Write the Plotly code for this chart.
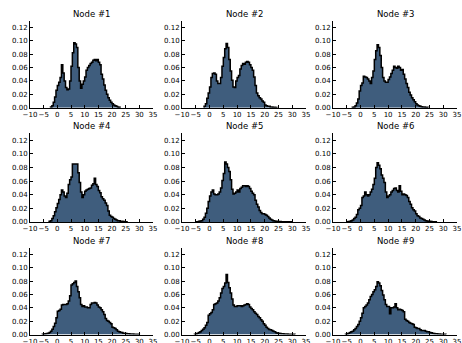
import plotly.graph_objects as go

BIN_WIDTH = 0.5
TITLES = ["Node #1", "Node #2", "Node #3", "Node #4", "Node #5",
          "Node #6", "Node #7", "Node #8", "Node #9"]
NODE_START = [-2.5, -2.0, -3.0, -3.0, -5.0, -5.0, -5.5, -5.5, -5.5]

node1 = [0.001, 0.003, 0.008, 0.016, 0.026, 0.033, 0.038, 0.045, 0.064, 0.052,
         0.040, 0.030, 0.027, 0.028, 0.040, 0.062, 0.082, 0.097, 0.095, 0.090,
         0.060, 0.040, 0.029, 0.035, 0.040, 0.046, 0.056, 0.060, 0.063, 0.066,
         0.068, 0.071, 0.072, 0.070, 0.072, 0.068, 0.064, 0.050, 0.043, 0.034,
         0.026, 0.020, 0.015, 0.011, 0.008, 0.006, 0.004, 0.003, 0.002, 0.001,
         0.0005]
node2 = [0.002, 0.006, 0.014, 0.022, 0.031, 0.045, 0.051, 0.052, 0.050, 0.040,
         0.036, 0.036, 0.045, 0.062, 0.075, 0.088, 0.096, 0.090, 0.072, 0.055,
         0.041, 0.031, 0.030, 0.040, 0.045, 0.048, 0.058, 0.063, 0.066, 0.065,
         0.068, 0.069, 0.068, 0.064, 0.060, 0.056, 0.046, 0.033, 0.022, 0.018,
         0.015, 0.013, 0.010, 0.008, 0.004, 0.003, 0.002, 0.002, 0.001, 0.001,
         0.0005, 0.0005, 0.0003]
node3 = [0.0005, 0.001, 0.003, 0.007, 0.013, 0.025, 0.033, 0.037, 0.047, 0.046,
         0.045, 0.043, 0.040, 0.036, 0.045, 0.055, 0.072, 0.085, 0.094, 0.090,
         0.078, 0.060, 0.045, 0.040, 0.038, 0.038, 0.042, 0.046, 0.051, 0.056,
         0.062, 0.060, 0.059, 0.062, 0.060, 0.056, 0.057, 0.050, 0.043, 0.036,
         0.030, 0.023, 0.019, 0.015, 0.012, 0.009, 0.006, 0.004, 0.003, 0.002,
         0.0015, 0.001, 0.001, 0.0005, 0.0005]
node4 = [0.001, 0.002, 0.005, 0.009, 0.015, 0.021, 0.027, 0.033, 0.040, 0.047,
         0.044, 0.038, 0.036, 0.042, 0.055, 0.062, 0.066, 0.085, 0.085, 0.085,
         0.085, 0.072, 0.058, 0.044, 0.036, 0.040, 0.045, 0.047, 0.048, 0.049,
         0.050, 0.054, 0.056, 0.064, 0.055, 0.052, 0.046, 0.043, 0.037, 0.034,
         0.032, 0.028, 0.024, 0.016, 0.010, 0.008, 0.007, 0.005, 0.004, 0.003,
         0.002, 0.002, 0.001, 0.001, 0.0007, 0.0005, 0.0003]
node5 = [0.0003, 0.0005, 0.001, 0.0015, 0.002, 0.004, 0.007, 0.013, 0.020, 0.030,
         0.038, 0.044, 0.047, 0.041, 0.040, 0.040, 0.041, 0.044, 0.050, 0.061,
         0.071, 0.088, 0.085, 0.080, 0.074, 0.062, 0.048, 0.041, 0.042, 0.044,
         0.047, 0.044, 0.049, 0.051, 0.053, 0.053, 0.052, 0.053, 0.052, 0.049,
         0.045, 0.042, 0.040, 0.032, 0.026, 0.022, 0.017, 0.014, 0.012, 0.012,
         0.011, 0.010, 0.008, 0.006, 0.004, 0.003, 0.002, 0.0015, 0.001, 0.001,
         0.0008, 0.0006, 0.0005, 0.0005, 0.0004, 0.0004, 0.0003, 0.0003, 0.0003, 0.0002]
node6 = [0.0003, 0.0006, 0.001, 0.002, 0.003, 0.005, 0.007, 0.011, 0.018, 0.020,
         0.024, 0.036, 0.038, 0.044, 0.040, 0.038, 0.040, 0.044, 0.048, 0.055,
         0.064, 0.080, 0.087, 0.083, 0.078, 0.069, 0.064, 0.058, 0.044, 0.036,
         0.038, 0.040, 0.044, 0.046, 0.049, 0.050, 0.046, 0.044, 0.053, 0.045,
         0.040, 0.041, 0.040, 0.039, 0.036, 0.030, 0.026, 0.021, 0.018, 0.016,
         0.012, 0.009, 0.008, 0.006, 0.005, 0.004, 0.003, 0.002, 0.0015, 0.001,
         0.001, 0.0008, 0.0005, 0.0004, 0.0003]
node7 = [0.0003, 0.0008, 0.001, 0.0015, 0.002, 0.003, 0.005, 0.008, 0.012, 0.017,
         0.025, 0.035, 0.036, 0.038, 0.044, 0.045, 0.045, 0.045, 0.046, 0.050,
         0.058, 0.074, 0.076, 0.078, 0.080, 0.072, 0.064, 0.055, 0.045, 0.042,
         0.043, 0.041, 0.041, 0.040, 0.040, 0.045, 0.047, 0.047, 0.048, 0.047,
         0.044, 0.041, 0.040, 0.037, 0.034, 0.030, 0.024, 0.021, 0.020, 0.018,
         0.016, 0.011, 0.010, 0.009, 0.007, 0.005, 0.004, 0.0035, 0.003, 0.002,
         0.0018, 0.0015, 0.0012, 0.001, 0.0008, 0.0007, 0.0006, 0.0005, 0.0004, 0.0003,
         0.0003]
node8 = [0.0005, 0.001, 0.002, 0.003, 0.004, 0.006, 0.008, 0.010, 0.014, 0.018,
         0.029, 0.031, 0.033, 0.037, 0.045, 0.046, 0.047, 0.050, 0.055, 0.062,
         0.069, 0.072, 0.077, 0.090, 0.078, 0.070, 0.062, 0.053, 0.044, 0.042,
         0.042, 0.043, 0.043, 0.043, 0.042, 0.043, 0.044, 0.045, 0.046, 0.045,
         0.041, 0.039, 0.037, 0.034, 0.032, 0.030, 0.027, 0.025, 0.022, 0.020,
         0.016, 0.014, 0.011, 0.009, 0.0075, 0.007, 0.006, 0.005, 0.004, 0.0025,
         0.002, 0.0018, 0.0015, 0.0012, 0.001, 0.0008, 0.0007, 0.0006, 0.0005, 0.0005,
         0.0004, 0.0003, 0.0003]
node9 = [0.0005, 0.001, 0.002, 0.003, 0.004, 0.005, 0.007, 0.009, 0.012, 0.015,
         0.020, 0.025, 0.032, 0.040, 0.042, 0.044, 0.047, 0.052, 0.057, 0.060,
         0.064, 0.067, 0.072, 0.079, 0.077, 0.073, 0.066, 0.059, 0.052, 0.045,
         0.042, 0.042, 0.031, 0.040, 0.040, 0.041, 0.046, 0.040, 0.037, 0.038,
         0.037, 0.036, 0.034, 0.023, 0.021, 0.020, 0.018, 0.017, 0.016, 0.015,
         0.011, 0.010, 0.009, 0.009, 0.007, 0.006, 0.006, 0.006, 0.005, 0.004,
         0.004, 0.003, 0.0025, 0.002, 0.0015, 0.001, 0.001, 0.0008, 0.0006, 0.0005,
         0.0004, 0.0003, 0.0003]
NODES = [node1, node2, node3, node4, node5, node6, node7, node8, node9]

X_TICKS = [-10, -5, 0, 5, 10, 15, 20, 25, 30, 35]
Y_TICKS = [0.00, 0.02, 0.04, 0.06, 0.08, 0.10, 0.12]

W, H = 462, 343
COL_PX = [(30, 153), (182, 306), (333, 457)]
ROW_PX = [(20.7, 107.7), (133.3, 222.0), (247.7, 334.5)]

FILL = "#3F5D7D"
FONT = "DejaVu Sans"

fig = go.Figure()
annotations = []
for k, (vals, start) in enumerate(zip(NODES, NODE_START)):
    r, c = divmod(k, 3)
    n = len(vals)
    edges = [start + i * BIN_WIDTH for i in range(n + 1)]
    xs = [edges[0]] + edges + [edges[-1]]
    ys = [0] + list(vals) + [vals[-1], 0]
    ax = "" if k == 0 else str(k + 1)
    fig.add_trace(go.Scatter(
        x=xs, y=ys, mode="lines", line=dict(shape="hv", color="black", width=1.5),
        fill="tozeroy", fillcolor=FILL, xaxis="x" + ax, yaxis="y" + ax,
        showlegend=False, hoverinfo="skip"))
    x0, x1 = COL_PX[c]
    ytop, ybot = ROW_PX[r]
    common = dict(showgrid=False, zeroline=False, showline=True, linecolor="black",
                  linewidth=1, ticks="inside", ticklen=3, tickwidth=1,
                  tickcolor="black", tickfont=dict(family=FONT, size=7, color="black"),
                  mirror=False, automargin=False)
    fig.layout["xaxis" + ax] = dict(
        domain=[x0 / W, x1 / W], range=[-10, 35], tickmode="array",
        tickvals=X_TICKS, ticktext=[("\u2212" + str(-t)) if t < 0 else str(t) for t in X_TICKS],
        tickangle=0, anchor="y" + ax, **common)
    fig.layout["yaxis" + ax] = dict(
        domain=[1 - ybot / H, 1 - ytop / H], range=[0, 0.13], tickmode="array",
        tickvals=Y_TICKS, ticktext=["%.2f" % t for t in Y_TICKS],
        anchor="x" + ax, **common)
    annotations.append(dict(
        text=TITLES[k], x=(x0 + x1) / 2 / W, y=1 - (ytop - 7) / H,
        xref="paper", yref="paper", xanchor="center", yanchor="middle",
        showarrow=False, font=dict(family=FONT, size=8.5, color="black")))

fig.update_layout(template="none", width=W, height=H,
                  margin=dict(l=0, r=0, t=0, b=0, autoexpand=False),
                  plot_bgcolor="white", paper_bgcolor="white",
                  annotations=annotations, showlegend=False)
fig.write_html("out.html", config={"displayModeBar": False},
               post_script="document.body.style.margin='0';document.body.style.overflow='hidden';")
